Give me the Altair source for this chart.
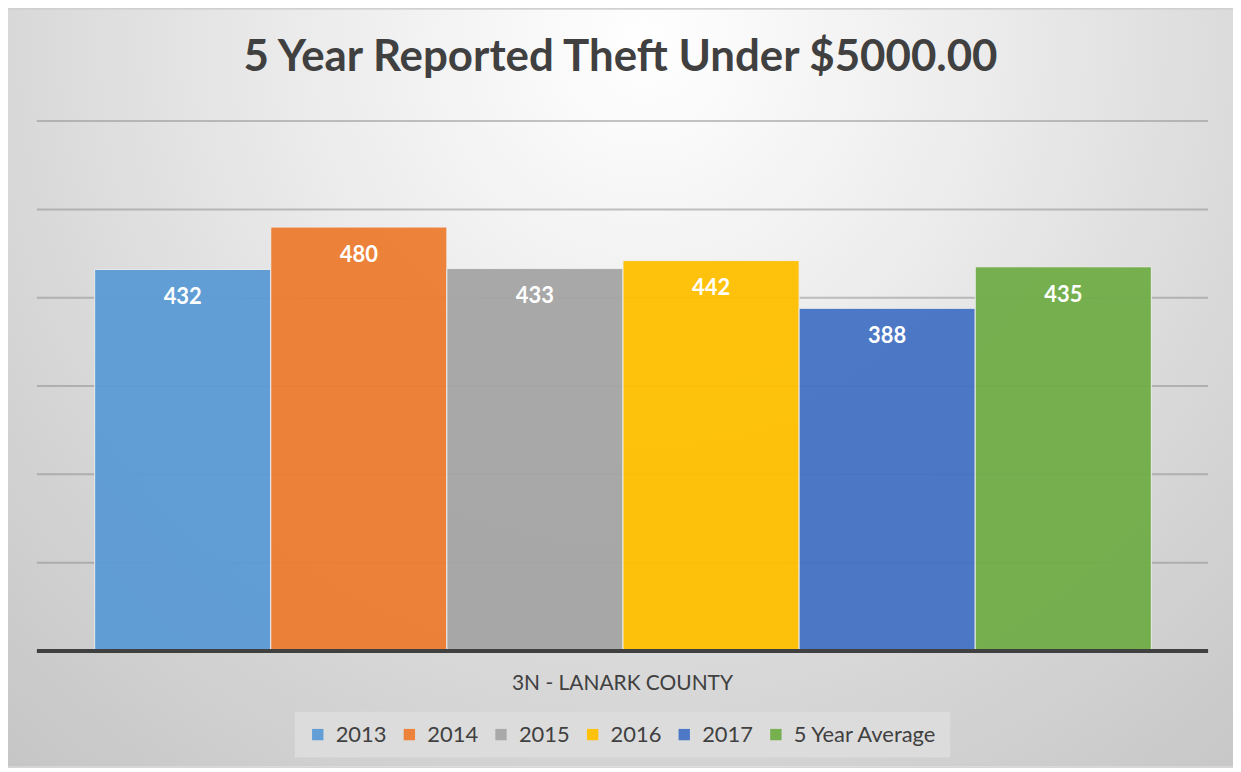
import altair as alt
import pandas as pd

series = ["2013", "2014", "2015", "2016", "2017", "5 Year Average"]
values = [432, 480, 433, 442, 388, 435]
colors = ["#5B9BD5", "#ED7D31", "#A5A5A5", "#FFC000", "#4472C4", "#70AD47"]
grid_values = [100, 200, 300, 400, 500, 600]
category = "3N - LANARK COUNTY"
title_text = "5 Year Reported Theft Under $5000.00"

W, H = 1230, 760
FONT = "Lato"

df = pd.DataFrame({"series": series, "value": values})
grid_df = pd.DataFrame({"v": grid_values})

yscale = alt.Scale(domain=[-130.8, 726.3], nice=False, zero=False)
xscale = alt.Scale(domain=series, range=[87, 1148], paddingInner=0, paddingOuter=0)

bg_grad = alt.RadialGradient(
    gradient="radial",
    x1=0.52, y1=0.22, r1=0.0,
    x2=0.52, y2=0.22, r2=0.78,
    stops=[
        alt.GradientStop(color="#ffffff", offset=0.0),
        alt.GradientStop(color="#ececec", offset=0.35),
        alt.GradientStop(color="#d6d6d6", offset=0.7),
        alt.GradientStop(color="#c6c6c6", offset=1.0),
    ],
)

background = alt.Chart(pd.DataFrame({"b": [0]})).mark_rect(color=bg_grad).encode(
    x=alt.value(0), x2=alt.value(W), y=alt.value(0), y2=alt.value(H)
)

grid = alt.Chart(grid_df).mark_rule(color="#8a8a8a", strokeWidth=2, opacity=0.5).encode(
    y=alt.Y("v:Q", scale=yscale, axis=None),
    x=alt.value(29),
    x2=alt.value(1205),
)

bars = alt.Chart(df).mark_bar(stroke="#eeeeee", strokeWidth=1, opacity=0.95).encode(
    x=alt.X("series:N", scale=xscale, axis=None, sort=series),
    y=alt.Y("value:Q", scale=yscale, axis=None),
    y2=alt.datum(0),
    color=alt.Color(
        "series:N",
        scale=alt.Scale(domain=series, range=colors),
        sort=series,
        legend=alt.Legend(
            title=None,
            orient="none",
            direction="horizontal",
            columns=6,
            legendX=288,
            legendY=705,
            symbolType="square",
            symbolSize=130,
            symbolStrokeWidth=0,
            labelFont=FONT,
            labelFontSize=22,
            labelColor="#404040",
            labelOffset=7,
            columnPadding=11,
            padding=12,
            fillColor="#dcdcdc",
        ),
    ),
)

labels = alt.Chart(df).mark_text(
    dy=28, color="white", fontWeight="bold", fontSize=22, font=FONT, baseline="middle"
).encode(
    x=alt.X("series:N", scale=xscale, axis=None, sort=series),
    y=alt.Y("value:Q", scale=yscale, axis=None),
    text=alt.Text("value:Q"),
)

baseline = alt.Chart(pd.DataFrame({"z": [0]})).mark_rule(color="#404040", strokeWidth=4).encode(
    y=alt.Y("z:Q", scale=yscale, axis=None),
    x=alt.value(29),
    x2=alt.value(1205),
)

cat_label = alt.Chart(pd.DataFrame({"c": [category]})).mark_text(
    font=FONT, fontSize=21, color="#404040", baseline="middle", align="center"
).encode(
    text="c:N",
    x=alt.value(617),
    y=alt.value(677),
)

chart = (
    alt.layer(background, grid, bars, labels, baseline, cat_label)
    .properties(
        width=W,
        height=H,
        padding=0,
        autosize=alt.AutoSizeParams(type="none"),
        title=alt.TitleParams(
            text=title_text,
            font=FONT,
            fontSize=44,
            fontWeight="bold",
            color="#404040",
            anchor="middle",
            baseline="alphabetic",
            offset=-65,
            dy=41,
        ),
    )
    .configure_view(stroke="#c0c0c0", strokeWidth=1)
    .configure(background="#d0d0d0")
)

chart.save("out.html", embed_options={"renderer": "svg", "actions": False})
